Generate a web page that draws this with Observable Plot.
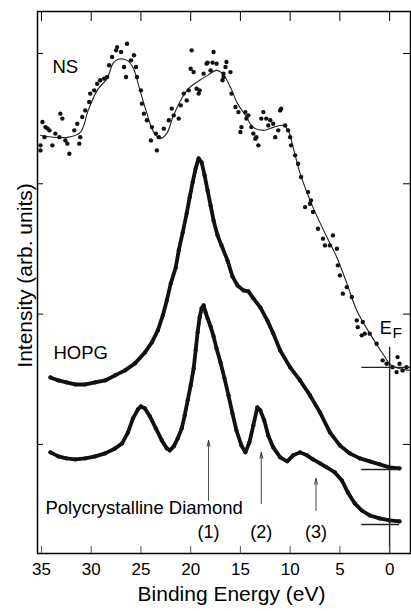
<!DOCTYPE html>
<html>
<head>
<meta charset="utf-8">
<script src="https://cdn.jsdelivr.net/npm/d3@7"></script>
<script src="https://cdn.jsdelivr.net/npm/@observablehq/plot@0.6"></script>
<style>
  html, body { margin: 0; padding: 0; background: #fff; }
  #chart svg { font-family: "Liberation Sans", Arial, Helvetica, sans-serif; }
</style>
</head>
<body>
<div id="chart"></div>
<script>
// ---- Data (binding energy in eV, intensity in arbitrary units) ----
const xTicks = [35, 30, 25, 20, 15, 10, 5, 0];
const yTicks = [1, 2, 3, 4];

// NS smooth fit line
const nsLineE = [35.1, 32.4, 31.1, 30.3, 29.4, 28.4, 27.8, 27.3, 26.4, 25.8, 25.1, 24.4, 23.8, 23.1, 22.4, 21.8, 20.9, 20.1, 19.1, 18.3, 17.4, 16.8, 16.0, 15.3, 14.5, 13.7, 12.7, 11.7, 10.7, 10.2, 9.7, 9.0, 8.0, 7.7, 6.3, 5.3, 4.3, 3.3, 2.0, 0.7, -0.2, -2.0];
const nsLineI = [3.371, 3.356, 3.394, 3.563, 3.717, 3.809, 3.924, 3.955, 3.947, 3.893, 3.717, 3.540, 3.410, 3.348, 3.387, 3.510, 3.655, 3.740, 3.794, 3.832, 3.870, 3.847, 3.740, 3.617, 3.525, 3.433, 3.410, 3.433, 3.448, 3.410, 3.279, 3.080, 2.873, 2.819, 2.589, 2.435, 2.236, 2.028, 1.852, 1.698, 1.606, 1.568];

// NS measured points
const nsDotE = [34.9, 34.6, 34.2, 34.7, 35.1, 33.9, 33.6, 33.1, 32.9, 33.2, 32.6, 32.2, 32.4, 31.7, 31.4, 31.1, 31.2, 30.9, 30.6, 30.2, 30.1, 29.7, 29.4, 29.1, 28.7, 28.4, 28.2, 27.9, 27.5, 27.4, 27.0, 26.4, 26.7, 26.5, 26.0, 25.7, 25.5, 25.4, 25.0, 24.9, 24.7, 24.4, 23.9, 24.0, 23.5, 23.4, 23.2, 22.7, 22.2, 21.9, 21.7, 21.2, 21.0, 20.7, 20.4, 20.2, 19.9, 20.0, 19.7, 19.4, 19.2, 18.7, 18.4, 18.0, 17.7, 17.4, 16.8, 16.7, 35.1, 34.4, 19.1, 17.8, 18.3,
  16.4, 16.5, 16.0, 16.7, 15.9, 15.5, 15.2, 14.5, 14.2, 14.4, 14.9, 15.0, 13.9, 13.7, 13.4, 13.2, 13.5, 12.7, 12.9, 12.4, 12.0, 12.2, 11.7, 10.9, 11.0, 11.2, 11.5, 10.5, 10.2, 10.0, 9.9, 9.5,
  9.2, 8.9, 8.2, 7.9, 8.5, 8.0, 7.7, 7.2, 6.7, 6.5, 6.0, 5.7, 5.3, 5.2, 5.0, 4.3, 4.7, 3.8, 3.3, 2.7, 3.2, 2.5, 2.8, 2.0, 1.3, 0.7, 0.3, -0.3, -0.8, -1.0, -0.7, -1.3, -1.7];
const nsDotI = [3.474, 3.435, 3.410, 3.358, 3.295, 3.295, 3.385, 3.538, 3.500, 3.358, 3.333, 3.231, 3.308, 3.410, 3.461, 3.358, 3.308, 3.512, 3.563, 3.627, 3.692, 3.717, 3.768, 3.794, 3.807, 3.819, 3.909, 3.973, 4.024, 4.049, 4.011, 4.075, 3.896, 3.819, 3.947, 3.986, 3.896, 3.819, 3.717, 3.615, 3.538, 3.487, 3.435, 3.333, 3.385, 3.256, 3.358, 3.423, 3.487, 3.577, 3.525, 3.500, 3.602, 3.692, 3.640, 3.717, 4.024, 3.883, 3.858, 3.730, 3.692, 3.845, 3.922, 3.870, 4.011, 3.922, 3.794, 3.845, 3.256, 3.425, 3.717, 3.930, 3.930,
  3.934, 3.896, 3.857, 3.819, 3.692, 3.589, 3.550, 3.550, 3.525, 3.500, 3.435, 3.397, 3.435, 3.385, 3.358, 3.295, 3.346, 3.550, 3.500, 3.500, 3.487, 3.448, 3.461, 3.577, 3.563, 3.410, 3.358, 3.448, 3.410, 3.358, 3.295, 3.218,
  3.154, 3.052, 2.936, 2.873, 2.821, 2.847, 2.783, 2.655, 2.579, 2.527, 2.527, 2.604, 2.502, 2.374, 2.297, 2.207, 2.157, 2.131, 1.952, 1.939, 1.900, 1.850, 1.837, 1.850, 1.773, 1.645, 1.619, 1.593, 1.670, 1.619, 1.555, 1.568, 1.593];

// HOPG
const hopgE = [34.1, 33.3, 32.5, 31.6, 30.6, 29.6, 28.6, 27.6, 26.6, 25.6, 24.6, 23.9, 23.3, 22.8, 22.4, 22.0, 21.5, 21.2, 20.8, 20.4, 20.1, 19.8, 19.5, 19.2, 18.9, 18.6, 18.3, 18.0, 17.7, 17.3, 16.9, 16.3, 15.8, 15.3, 14.7, 14.2, 13.7, 13.0, 12.3, 11.7, 11.0, 10.0, 9.0, 8.0, 7.0, 6.0, 5.0, 4.0, 3.0, 2.0, 1.0, 0.0, -1.0];
const hopgI = [1.514, 1.491, 1.476, 1.460, 1.460, 1.476, 1.491, 1.530, 1.568, 1.622, 1.706, 1.783, 1.875, 1.990, 2.105, 2.236, 2.358, 2.489, 2.627, 2.773, 2.896, 3.011, 3.118, 3.195, 3.164, 3.065, 2.949, 2.834, 2.719, 2.604, 2.527, 2.412, 2.289, 2.220, 2.182, 2.174, 2.121, 2.051, 1.952, 1.852, 1.721, 1.591, 1.491, 1.376, 1.246, 1.092, 0.992, 0.931, 0.893, 0.870, 0.847, 0.824, 0.816];

// Polycrystalline diamond
const diamondE = [34.1, 33.3, 32.5, 31.6, 30.6, 29.6, 28.6, 27.6, 26.9, 26.3, 25.8, 25.3, 25.0, 24.6, 24.1, 23.5, 22.9, 22.4, 22.1, 21.7, 21.3, 20.9, 20.6, 20.3, 20.0, 19.7, 19.5, 19.3, 19.1, 18.9, 18.7, 18.5, 18.3, 18.0, 17.7, 17.4, 17.0, 16.6, 16.2, 15.8, 15.4, 14.9, 14.5, 14.1, 13.7, 13.3, 13.0, 12.6, 12.2, 11.7, 11.0, 10.3, 9.7, 9.0, 8.3, 7.7, 7.0, 6.3, 5.5, 4.8, 4.2, 3.5, 2.8, 2.0, 1.0, 0.0, -1.0];
const diamondI = [0.939, 0.908, 0.893, 0.885, 0.893, 0.908, 0.931, 0.969, 1.008, 1.092, 1.200, 1.269, 1.292, 1.276, 1.215, 1.123, 1.031, 0.969, 0.954, 0.985, 1.046, 1.123, 1.223, 1.338, 1.453, 1.583, 1.721, 1.860, 1.975, 2.044, 2.067, 2.013, 1.967, 1.906, 1.829, 1.737, 1.629, 1.507, 1.376, 1.238, 1.107, 0.992, 0.939, 1.015, 1.146, 1.284, 1.261, 1.184, 1.069, 0.977, 0.900, 0.870, 0.916, 0.939, 0.916, 0.885, 0.854, 0.823, 0.785, 0.724, 0.632, 0.547, 0.493, 0.455, 0.432, 0.417, 0.409];

// Feature arrows (1), (2), (3)
const arrowLabels = ["(1)", "(2)", "(3)"];
const arrowE = [18.2, 12.9, 7.4];
const arrowTipI = [1.031, 0.939, 0.739];
const arrowBaseI = [0.570, 0.547, 0.493];
const arrowLabelI = 0.325;

// Reference levels at the Fermi edge side (E from, E to, intensity)
const baseFromE = [2.8, 2.8, 2.8];
const baseToE = [-2.1, -1.0, -1.0];
const baseI = [1.591, 0.808, 0.386];
const fermiE = 0;
const fermiTopI = 1.745;

// Spectrum labels
const specLabels = ["NS", "HOPG", "Polycrystalline Diamond"];
const specLabelE = [33.9, 33.8, 34.6];
const specLabelI = [3.893, 1.698, 0.509];

// ---- Build tables ----
const zip = (E, I) => E.map((e, i) => ({e, v: I[i]}));
const nsLine = zip(nsLineE, nsLineI);
const nsDots = zip(nsDotE, nsDotI);
const hopg = zip(hopgE, hopgI);
const diamond = zip(diamondE, diamondI);
const arrows = arrowE.map((e, i) => ({e, tip: arrowTipI[i], base: arrowBaseI[i], label: arrowLabels[i]}));
const baselines = baseI.map((v, i) => ({x1: baseFromE[i], x2: baseToE[i], v}));
const labels = specLabels.map((t, i) => ({t, e: specLabelE[i], v: specLabelI[i]}));

const font = "Liberation Sans, Arial, Helvetica, sans-serif";
const W = 411, H = 611, mL = 37, mR = 1, mT = 11, mB = 58;
const frameW = W - mL - mR, frameH = H - mT - mB;

const chart = Plot.plot({
  width: W,
  height: H,
  marginLeft: mL,
  marginRight: mR,
  marginTop: mT,
  marginBottom: mB,
  style: {fontFamily: font, background: "#fff", color: "#000"},
  x: {domain: [35.4, -2.1], label: null},
  y: {domain: [0.163, 4.322], label: null, axis: null},
  marks: [
    // spectra
    Plot.line(hopg, {x: "e", y: "v", stroke: "#111", strokeWidth: 3.8, curve: "linear"}),
    Plot.dot(hopg, {x: "e", y: "v", r: 2.1, fill: "#111"}),
    Plot.line(diamond, {x: "e", y: "v", stroke: "#111", strokeWidth: 3.8, curve: "linear"}),
    Plot.dot(diamond, {x: "e", y: "v", r: 2.1, fill: "#111"}),
    Plot.line(nsLine, {x: "e", y: "v", stroke: "#222", strokeWidth: 1.1, curve: "catmull-rom"}),
    Plot.dot(nsDots, {x: "e", y: "v", r: 2.2, fill: "#111"}),
    // Fermi level markers
    Plot.ruleX([fermiE], {y1: fermiTopI, y2: 0.163, stroke: "#222", strokeWidth: 1.4}),
    Plot.ruleY(baselines, {x1: "x1", x2: "x2", y: "v", stroke: "#222", strokeWidth: 1.4}),
    Plot.text(["E"], {x: 1.0, y: 1.89, text: d => d, textAnchor: "start", fontSize: 18, fill: "#000"}),
    Plot.text(["F"], {x: -0.3, y: 1.855, text: d => d, textAnchor: "start", fontSize: 15.5, fill: "#000"}),
    // feature arrows
    Plot.arrow(arrows, {x1: "e", x2: "e", y1: "base", y2: "tip", stroke: "#444", strokeWidth: 1, headLength: 9, headAngle: 28}),
    Plot.text(arrows, {x: "e", y: () => arrowLabelI, text: "label", fontSize: 18, fill: "#000"}),
    // spectrum labels
    Plot.text(labels, {x: "e", y: "v", text: "t", textAnchor: "start", fontSize: 18.5, fill: "#000"}),
    // frame and inward ticks
    Plot.frame({stroke: "#000", strokeWidth: 1.5}),
    Plot.ruleX(xTicks, {x: d => d, insetBottom: frameH - 10, stroke: "#000", strokeWidth: 1}),
    Plot.ruleX(xTicks, {x: d => d, insetTop: frameH - 7, stroke: "#555", strokeWidth: 1}),
    Plot.ruleY(yTicks, {y: d => d, insetRight: frameW - 6, stroke: "#000", strokeWidth: 1}),
    Plot.ruleY(yTicks, {y: d => d, insetLeft: frameW - 7, stroke: "#000", strokeWidth: 1}),
    Plot.axisX(xTicks, {anchor: "bottom", tickSize: 0, tickPadding: 9, label: null, fontSize: 17, fill: "#000"}),
    // axis titles
    Plot.text(["Binding Energy (eV)"], {frameAnchor: "bottom", lineAnchor: "middle", textAnchor: "middle", dx: 7.5, dy: 41, fontSize: 21, fill: "#000"}),
    Plot.text(["Intensity (arb. units)"], {frameAnchor: "left", lineAnchor: "middle", textAnchor: "middle", dx: -12, dy: -7, rotate: -90, fontSize: 21, fill: "#000"})
  ]
});

document.getElementById("chart").appendChild(chart);
</script>
</body>
</html>
